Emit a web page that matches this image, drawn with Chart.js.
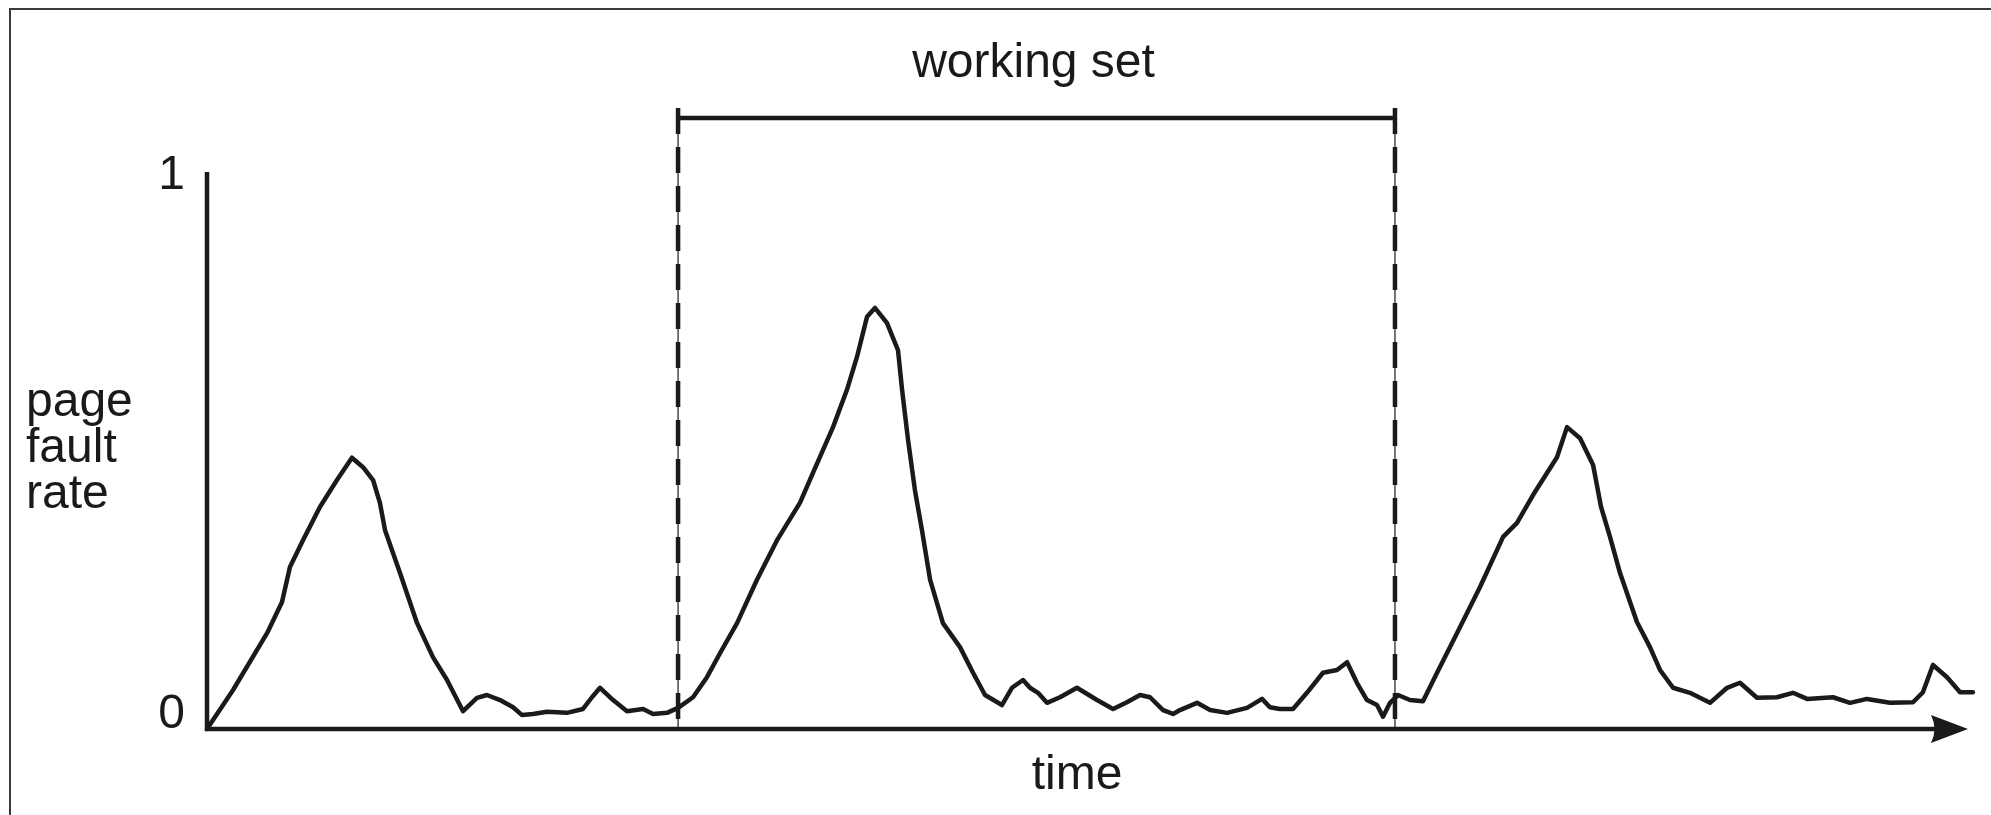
<!DOCTYPE html>
<html>
<head>
<meta charset="utf-8">
<script src="https://cdn.jsdelivr.net/npm/chart.js@4.4.0/dist/chart.umd.min.js"></script>
<style>
  html, body { margin: 0; padding: 0; background: #ffffff; }
  #wrap { width: 1991px; height: 815px; position: relative; }
</style>
</head>
<body>
<div id="wrap"><canvas id="c"></canvas></div>
<script>
// ---- data (time in arbitrary units, 0..100 = axis length) ----
const times = [
  0.00, 1.48, 3.41, 4.26, 4.71, 5.45, 6.42, 7.38, 8.23, 8.86, 9.43, 9.82, 10.11, 10.96, 11.93, 12.83,
  13.63, 14.54, 15.33, 15.90, 16.64, 17.38, 17.89, 18.51, 19.31, 20.44, 21.35, 21.86, 22.32, 23.06,
  23.85, 24.76, 25.33, 26.12, 26.75, 27.60, 28.39, 29.13, 30.10, 31.23, 32.37, 33.67, 34.41, 35.55,
  36.34, 36.91, 37.48, 37.93, 38.61, 39.24, 39.47, 39.81, 40.20, 40.60, 41.06, 41.79, 42.76, 43.50,
  44.18, 45.14, 45.71, 46.34, 46.73, 47.19, 47.70, 48.44, 49.40, 50.54, 51.45, 52.24, 52.98, 53.55,
  54.29, 54.86, 55.25, 56.22, 56.96, 57.92, 59.06, 59.91, 60.36, 60.93, 61.67, 62.46, 63.37, 64.17,
  64.74, 65.30, 65.87, 66.44, 66.78, 67.18, 67.63, 68.31, 69.05, 69.85, 70.98, 72.29, 73.60, 74.39,
  75.30, 76.66, 77.23, 77.97, 78.71, 79.16, 79.67, 80.24, 81.20, 81.94, 82.51, 83.25, 84.21, 85.35,
  86.32, 87.05, 88.02, 89.15, 90.06, 90.86, 92.33, 93.30, 94.26, 95.57, 96.88, 97.44, 98.01, 98.81,
  99.55, 100.28, 100.85, 101.31
];
const faultRate = [
  0.000, 0.070, 0.172, 0.228, 0.291, 0.339, 0.399, 0.447, 0.487, 0.470, 0.447, 0.406, 0.357, 0.280, 0.190, 0.129,
  0.088, 0.032, 0.056, 0.061, 0.052, 0.039, 0.025, 0.027, 0.031, 0.029, 0.036, 0.057, 0.074, 0.052,
  0.032, 0.036, 0.027, 0.029, 0.038, 0.057, 0.093, 0.136, 0.190, 0.268, 0.339, 0.406, 0.460, 0.542,
  0.609, 0.668, 0.740, 0.756, 0.729, 0.680, 0.609, 0.519, 0.429, 0.357, 0.268, 0.190, 0.147, 0.101,
  0.061, 0.043, 0.074, 0.088, 0.074, 0.065, 0.047, 0.057, 0.074, 0.052, 0.036, 0.048, 0.061, 0.057,
  0.034, 0.027, 0.034, 0.047, 0.034, 0.029, 0.038, 0.054, 0.039, 0.036, 0.036, 0.065, 0.101, 0.106,
  0.120, 0.083, 0.052, 0.043, 0.022, 0.047, 0.061, 0.052, 0.050, 0.101, 0.172, 0.255, 0.345, 0.370,
  0.420, 0.488, 0.542, 0.522, 0.474, 0.399, 0.345, 0.280, 0.192, 0.147, 0.106, 0.074, 0.065, 0.047,
  0.074, 0.083, 0.056, 0.057, 0.065, 0.054, 0.057, 0.047, 0.054, 0.047, 0.048, 0.066, 0.115, 0.093,
  0.066, 0.066, 0.059, 0.057
];
const yTickValues = [0, 1];
const yTickLabels = ['0', '1'];
const workingSetStart = 26.75;   // time of left dashed marker
const workingSetEnd = 67.46;     // time of right dashed marker
const workingSetLevel = 1.097;   // height of the bracket (rate units)
const workingSetTop = 1.115;     // top of the marker ticks
const workingSetLabel = 'working set';
const yAxisLabel = ['page', 'fault', 'rate'];
const xAxisLabel = 'time';

const INK = '#1a1a1a';
const FONT = '48px "Liberation Sans", Arial, Helvetica, sans-serif';

const points = times.map((t, i) => ({ x: t, y: faultRate[i] }));

const diagramPlugin = {
  id: 'diagram',
  beforeDatasetsDraw(chart) {
    const { ctx, chartArea: a, scales: { x, y } } = chart;
    ctx.save();
    // outer frame (top and left edges visible)
    ctx.strokeStyle = '#3a3a3a';
    ctx.lineWidth = 2;
    ctx.beginPath();
    ctx.moveTo(10, 815);
    ctx.lineTo(10, 9);
    ctx.lineTo(1991, 9);
    ctx.stroke();

    // y axis
    ctx.strokeStyle = INK;
    ctx.lineWidth = 4.5;
    ctx.beginPath();
    ctx.moveTo(a.left, a.top);
    ctx.lineTo(a.left, a.bottom + 2);
    ctx.stroke();
    // x axis with arrow
    ctx.beginPath();
    ctx.moveTo(a.left - 2, a.bottom);
    ctx.lineTo(a.right - 30, a.bottom);
    ctx.stroke();
    ctx.fillStyle = INK;
    ctx.beginPath();
    ctx.moveTo(a.right, a.bottom);
    ctx.lineTo(a.right - 37, a.bottom - 14);
    ctx.quadraticCurveTo(a.right - 30, a.bottom, a.right - 37, a.bottom + 14);
    ctx.closePath();
    ctx.fill();

    // working-set markers
    const xs = [x.getPixelForValue(workingSetStart), x.getPixelForValue(workingSetEnd)];
    const yTop = y.getPixelForValue(workingSetTop);
    const yBr = y.getPixelForValue(workingSetLevel);
    xs.forEach(px => {
      ctx.lineWidth = 1.2;
      ctx.setLineDash([]);
      ctx.beginPath();
      ctx.moveTo(px, yTop);
      ctx.lineTo(px, a.bottom);
      ctx.stroke();
      ctx.lineWidth = 4.5;
      ctx.setLineDash([26, 13]);
      ctx.beginPath();
      ctx.moveTo(px, yTop);
      ctx.lineTo(px, a.bottom);
      ctx.stroke();
    });
    ctx.setLineDash([]);
    ctx.lineWidth = 4.5;
    ctx.beginPath();
    ctx.moveTo(xs[0], yBr);
    ctx.lineTo(xs[1], yBr);
    ctx.stroke();
    ctx.restore();
  },
  afterDraw(chart) {
    const { ctx, chartArea: a, scales: { x, y } } = chart;
    ctx.save();
    ctx.fillStyle = INK;
    ctx.font = FONT;
    ctx.textBaseline = 'alphabetic';

    // y tick labels
    ctx.textAlign = 'right';
    yTickValues.forEach((v, i) => {
      const py = y.getPixelForValue(v);
      const off = v === 0 ? -1 : 17;
      ctx.fillText(yTickLabels[i], a.left - 22, py + off);
    });

    // y label (three lines, left)
    ctx.textAlign = 'left';
    yAxisLabel.forEach((s, i) => ctx.fillText(s, 26, 416 + i * 46));

    // x label
    ctx.textAlign = 'center';
    ctx.fillText(xAxisLabel, 1077, 789);

    // working set label
    const mid = (x.getPixelForValue(workingSetStart) + x.getPixelForValue(workingSetEnd)) / 2;
    ctx.fillText(workingSetLabel, mid - 3, y.getPixelForValue(workingSetLevel) - 41);
    ctx.restore();
  }
};

new Chart(document.getElementById('c'), {
  type: 'line',
  data: {
    datasets: [{
      data: points,
      borderColor: INK,
      borderWidth: 4.5,
      pointRadius: 0,
      tension: 0,
      fill: false,
      clip: false,
      borderJoinStyle: 'round',
      borderCapStyle: 'round'
    }]
  },
  options: {
    responsive: true,
    maintainAspectRatio: false,
    animation: false,
    events: [],
    layout: { padding: { left: 207, right: 23, top: 172, bottom: 86 } },
    plugins: { legend: { display: false }, tooltip: { enabled: false }, title: { display: false } },
    scales: {
      x: { type: 'linear', min: 0, max: 100, display: false },
      y: { type: 'linear', min: 0, max: 1, display: false }
    }
  },
  plugins: [diagramPlugin]
});
</script>
</body>
</html>
